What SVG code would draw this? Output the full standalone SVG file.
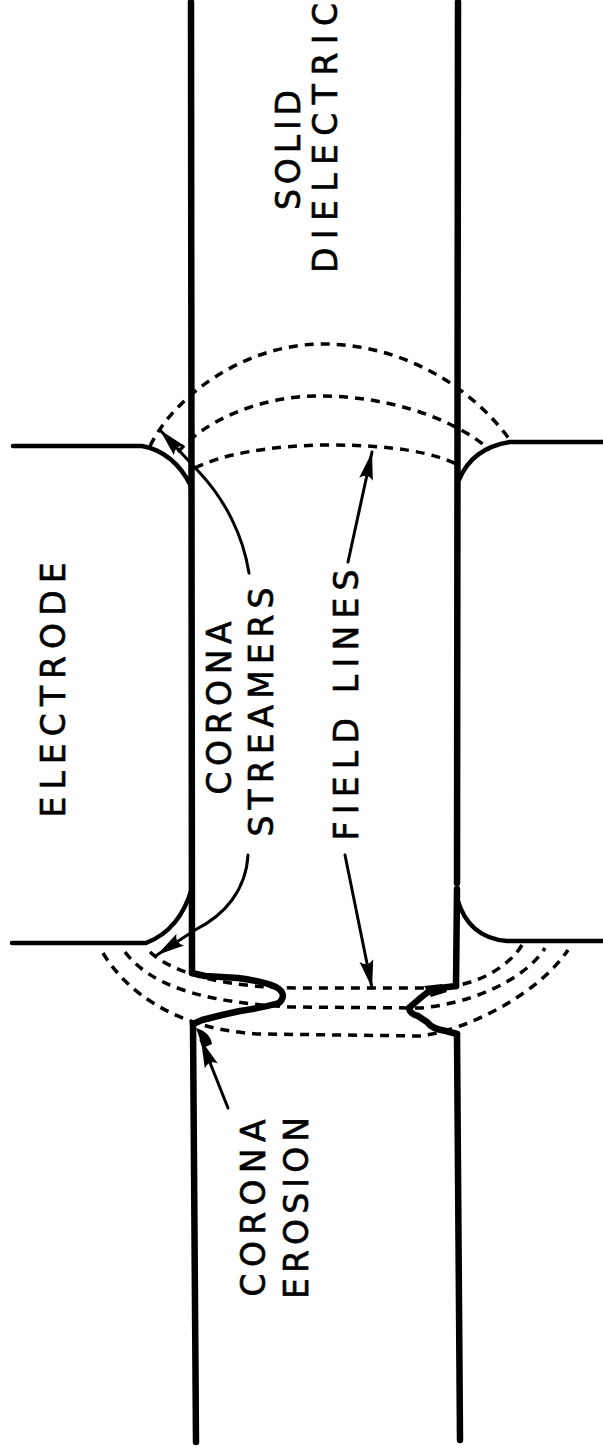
<svg xmlns="http://www.w3.org/2000/svg" width="603" height="1452" viewBox="0 0 603 1452">
  <defs>
    <style>
      .wall{fill:none;stroke:#000;stroke-width:6.5;stroke-linecap:round;stroke-linejoin:round}
      .edge{fill:none;stroke:#000;stroke-width:4.5;stroke-linecap:round;stroke-linejoin:round}
      .erode{fill:none;stroke:#000;stroke-width:6.5;stroke-linecap:round;stroke-linejoin:round}
      .field{fill:none;stroke:#000;stroke-width:3.5;stroke-dasharray:9 7}
      .lead{fill:none;stroke:#000;stroke-width:3;stroke-linecap:round;marker-end:url(#tip)}
      .lbl{font-family:"DejaVu Sans","Liberation Sans",sans-serif;font-size:33px;fill:#000;stroke:#000;stroke-width:0.7;text-anchor:middle}
    </style>
    <marker id="tip" markerUnits="userSpaceOnUse" markerWidth="30" markerHeight="16" viewBox="0 0 30 16" refX="28" refY="8" orient="auto">
      <path d="M0,1 L28,8 L0,15 Q7,8 0,1 Z" fill="#000"/>
    </marker>
  </defs>
  <rect width="603" height="1452" fill="#fff"/>

  <!-- solid dielectric sheet: two faces, eroded where the bottom electrode edge sits -->
  <g id="dielectric">
    <path class="wall" d="M191,2 L192,973"/>
    <path class="erode" d="M192,973 L205,976 L238,978 Q262,981 276,987 Q288,994 279,1003 Q262,1008 240,1011 L222,1015 L202,1020 L193,1024"/>
    <path class="wall" d="M193,1024 L196,1442"/>
    <path class="wall" d="M458,2 L457,883"/>
    <path class="wall" d="M457,889 L456,986"/>
    <path class="erode" d="M456,986 L440,988 L428,992 Q420,998 409,1008 Q410,1014 418,1016 L427,1022 Q432,1029 446,1031 L457,1034"/>
    <path d="M424,986 L442,984 L447,992 L431,997 Z" fill="#000"/>
    <path d="M196,1028 Q210,1032 212,1044 L203,1048 Z" fill="#000"/>
    <path class="wall" d="M457,1034 L460,1440"/>
  </g>

  <!-- electrodes on either side of the sheet -->
  <g id="electrode-left">
    <path class="edge" d="M13,446 L142,446 Q174,452 191,486"/>
    <path class="edge" d="M12,943 L146,943 Q180,930 192,888"/>
  </g>
  <g id="electrode-right">
    <path class="edge" d="M603,442 L510,442 Q472,448 459,480"/>
    <path class="edge" d="M457,898 Q468,938 507,941 L603,941"/>
  </g>

  <!-- field lines around the electrode edges -->
  <g id="field-lines">
    <path class="field" d="M150,446 C175,395 245,345 320,344 C400,343 470,385 510,440"/>
    <path class="field" d="M178,452 C205,420 260,397 315,396 C380,395 450,415 490,450"/>
    <path class="field" d="M195,468 C220,455 270,445 330,445 C390,445 435,452 460,466"/>
    <path class="field" d="M103,953 C125,990 175,1030 260,1034 L420,1036 C470,1030 540,992 568,950"/>
    <path class="field" d="M125,952 C150,985 200,1002 290,1007 L420,1008 C470,1004 525,980 545,948"/>
    <path class="field" d="M150,952 C175,975 230,988 300,988 L440,988 C480,985 510,965 522,945"/>
  </g>

  <!-- label leaders -->
  <g id="connectors">
    <path class="lead" d="M249,573 C243,535 225,500 200,473 L160,430"/>
    <path class="lead" d="M248,855 C246,890 225,915 195,930 L157,955"/>
    <path class="lead" d="M348,562 L372,452"/>
    <path class="lead" d="M345,855 Q356,910 372,988"/>
    <path class="lead" d="M228,1108 L201,1040"/>
  </g>

  <g id="label-solid-dielectric">
    <text class="lbl" transform="translate(300,150) rotate(-90)" textLength="120" lengthAdjust="spacing">SOLID</text>
    <text class="lbl" transform="translate(337,138) rotate(-90)" textLength="270" lengthAdjust="spacing">DIELECTRIC</text>
  </g>
  <g id="label-electrode">
    <text class="lbl" transform="translate(65,690) rotate(-90)" textLength="255" lengthAdjust="spacing">ELECTRODE</text>
  </g>
  <g id="label-corona-streamers">
    <text class="lbl" transform="translate(231,708) rotate(-90)" textLength="173" lengthAdjust="spacing">CORONA</text>
    <text class="lbl" transform="translate(273,712) rotate(-90)" textLength="249" lengthAdjust="spacing">STREAMERS</text>
  </g>
  <g id="label-field-lines">
    <text class="lbl" transform="translate(358,705) rotate(-90)" textLength="271" lengthAdjust="spacing">FIELD LINES</text>
  </g>
  <g id="label-corona-erosion">
    <text class="lbl" transform="translate(265,1208) rotate(-90)" textLength="177" lengthAdjust="spacing">CORONA</text>
    <text class="lbl" transform="translate(308,1208) rotate(-90)" textLength="182" lengthAdjust="spacing">EROSION</text>
  </g>
</svg>
